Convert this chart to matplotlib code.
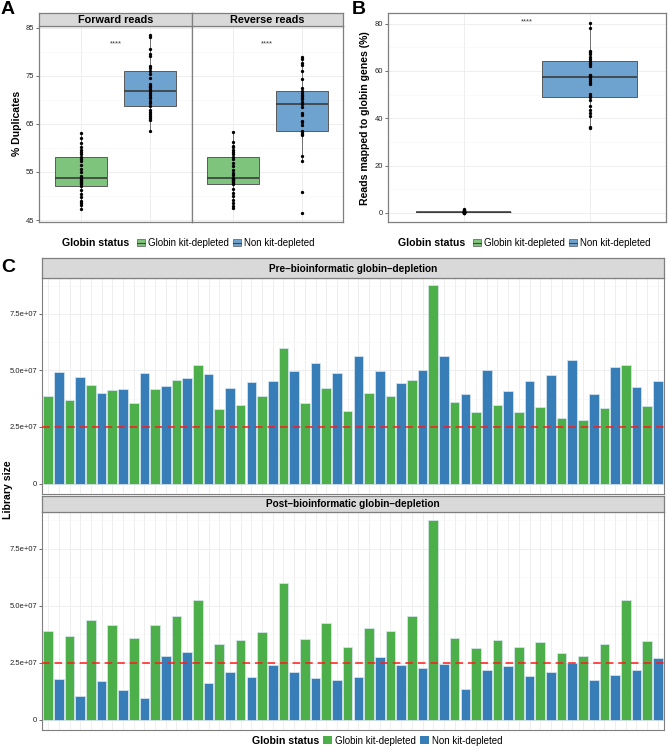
import numpy as np
import matplotlib
matplotlib.use('Agg')
import matplotlib.pyplot as plt
from matplotlib.patches import Patch
from matplotlib.lines import Line2D
from matplotlib.ticker import FixedLocator

plt.rcParams['font.family'] = ['Liberation Sans', 'DejaVu Sans']

# ---------------- data ----------------
groups = ['Globin kit-depleted', 'Non kit-depleted']
facets_a = ['Forward reads', 'Reverse reads']

fwd_kit = [47.3, 48.2, 48.6, 49.0, 49.8, 50.5, 51.3, 52.1, 52.4, 52.7, 52.9, 53.1, 53.3, 53.5,
           53.75, 54.2, 55.0, 55.6, 56.4, 57.2, 57.7, 58.2, 58.7, 59.2, 59.5, 60.2, 61.0, 62.0, 63.1]
fwd_non = [63.6, 65.8, 66.3, 66.7, 67.0, 67.4, 68.0, 68.8, 69.3, 69.8, 70.3, 70.7, 71.1, 71.5,
           71.9, 72.2, 72.6, 73.0, 73.4, 74.5, 75.3, 76.1, 76.6, 77.0, 79.2, 79.6, 80.5, 83.0, 83.6]
rev_kit = [47.6, 48.0, 48.6, 49.1, 50.0, 50.6, 51.4, 52.5, 52.7, 52.9, 53.1, 53.3, 53.5, 53.6,
           53.75, 54.3, 54.7, 55.5, 56.3, 56.9, 57.6, 58.2, 58.8, 59.1, 59.5, 60.2, 60.5, 61.2, 63.4]
rev_non = [46.5, 50.75, 57.3, 58.4, 62.6, 63.0, 63.3, 63.6, 64.8, 65.3, 65.6, 66.8, 67.2, 68.5,
           69.2, 69.6, 70.2, 70.5, 70.8, 71.1, 71.5, 71.9, 72.5, 74.4, 76.0, 77.2, 77.6, 78.5, 79.0]

globin_kit = [0.05, 0.08, 0.1, 0.12, 0.15, 0.18, 0.2, 0.22, 0.24, 0.25, 0.27, 0.28, 0.3, 0.31,
              0.32, 0.34, 0.36, 0.38, 0.4, 0.42, 0.45, 0.5, 0.55, 0.6, 0.7, 0.8, 1.0, 1.3, 1.6]
globin_non = [36.0, 36.3, 40.9, 42.2, 43.5, 45.4, 47.7, 48.8, 49.5, 50.2, 54.5, 55.0, 55.6, 56.4,
              57.3, 57.8, 58.1, 58.4, 62.3, 62.8, 63.3, 64.4, 65.0, 66.1, 67.0, 67.9, 68.6, 78.3, 80.4]

# library sizes (millions of reads), samples alternate kit-depleted / non kit-depleted
sample_status = ['Globin kit-depleted', 'Non kit-depleted'] * 29
pre_lib = [38.9, 49.1, 36.9, 47.2, 43.6, 40.0, 41.4, 41.7, 35.8, 48.7,
           41.7, 43.0, 45.6, 46.5, 52.5, 48.3, 33.1, 42.2, 34.9, 44.9,
           38.5, 45.2, 60.0, 49.6, 35.5, 53.3, 42.4, 48.8, 32.1, 56.3,
           40.1, 49.7, 38.8, 44.5, 45.6, 50.1, 87.6, 56.4, 35.9, 39.7,
           31.7, 50.1, 34.9, 41.1, 31.8, 45.2, 34.0, 48.0, 29.1, 54.5,
           27.9, 39.8, 33.3, 51.7, 52.3, 42.6, 34.4, 45.3]
post_lib = [38.9, 17.7, 36.9, 10.3, 43.6, 17.0, 41.4, 13.1, 35.8, 9.6,
            41.7, 27.8, 45.6, 29.8, 52.5, 16.0, 33.1, 21.2, 34.9, 18.9,
            38.5, 24.0, 60.0, 21.2, 35.5, 18.3, 42.4, 17.4, 32.1, 18.6,
            40.1, 27.6, 38.8, 24.1, 45.6, 22.8, 87.6, 24.4, 35.9, 13.5,
            31.7, 21.7, 34.9, 23.8, 31.8, 19.2, 34.0, 20.8, 29.1, 24.9,
            27.9, 17.6, 33.3, 19.5, 52.3, 21.9, 34.4, 26.9]
threshold = 25e6
facets_c = ['Pre\u2013bioinformatic globin\u2013depletion', 'Post\u2013bioinformatic globin\u2013depletion']
c_ticks = [0, 2.5e7, 5.0e7, 7.5e7]
c_ticklabels = ['0', '2.5e+07', '5.0e+07', '7.5e+07']

# ---------------- style ----------------
box_col = {'Globin kit-depleted': '#7FC47C', 'Non kit-depleted': '#6FA3CF'}
bar_col = {'Globin kit-depleted': '#4DAF4A', 'Non kit-depleted': '#377EB8'}
BORDER = '#7f7f7f'
STRIP = '#d9d9d9'

W, H = 668, 750
fig = plt.figure(figsize=(W / 100, H / 100), dpi=100)


def ax_px(x0, y0, x1, y1):
    return fig.add_axes([x0 / W, 1 - y1 / H, (x1 - x0) / W, (y1 - y0) / H])


def fx(x):
    return x / W


def fy(y):
    return 1 - y / H


def style_panel(ax, border=BORDER, lw=0.9):
    ax.set_facecolor('white')
    for s in ax.spines.values():
        s.set_color(border)
        s.set_linewidth(lw)
    ax.grid(which='major', color='#ebebeb', lw=0.6)
    ax.grid(which='minor', axis='y', color='#f5f5f5', lw=0.4)
    ax.set_axisbelow(True)
    ax.tick_params(axis='both', which='major', length=2.2, width=0.5, color='#333333',
                   labelsize=5.5, labelcolor='#222222', pad=1.2)
    ax.tick_params(which='minor', length=0)


def strip(x0, y0, x1, y1, text, size=7.8):
    s = ax_px(x0, y0, x1, y1)
    s.set_facecolor(STRIP)
    s.set_xticks([])
    s.set_yticks([])
    for sp in s.spines.values():
        sp.set_color(BORDER)
        sp.set_linewidth(0.9)
    s.text(0.5, 0.47, text, ha='center', va='center', fontsize=size, fontweight='bold',
           transform=s.transAxes)
    return s


def draw_box(ax, data_list, ylim, star_y):
    for i, (g, vals) in enumerate(zip(groups, data_list)):
        ax.boxplot([vals], positions=[i + 1], widths=0.75, patch_artist=True,
                   showfliers=False, showcaps=False, whis=1.5,
                   medianprops=dict(color='#333333', lw=1.1),
                   boxprops=dict(facecolor=box_col[g], edgecolor='#5a5a5a', lw=0.7),
                   whiskerprops=dict(color='#5a5a5a', lw=0.6))
        ax.plot([i + 1] * len(vals), vals, 'o', color='black', ms=2.4, mew=0, zorder=5)
    ax.set_xlim(0.4, 2.6)
    ax.set_ylim(*ylim)
    ax.set_xticks([1, 2])
    ax.set_xticklabels([])
    ax.tick_params(axis='x', length=0)
    ax.text(1.5, star_y, '****', ha='center', va='center', fontsize=5.5, color='#333333')


box_handles = [(Patch(facecolor=box_col[g], edgecolor='#5a5a5a', lw=0.5),
                Line2D([], [], color='#444444', lw=0.8)) for g in groups]


def legend_row(title_x, key_x, y, handles, size=7, hl=0.85, hh=0.6, colsp=0.45):
    fig.text(fx(title_x), fy(y), 'Globin status', ha='left', va='center',
             fontsize=7.6, fontweight='bold')
    fig.legend(handles, groups, loc='center left', bbox_to_anchor=(fx(key_x), fy(y)),
               ncol=2, frameon=False, fontsize=size, handlelength=hl, handleheight=hh,
               handletextpad=0.3, columnspacing=colsp, borderpad=0, borderaxespad=0)


# ---------------- panel A ----------------
a_top, a_bot = 25.7, 221.7
ylim_a = (44.65, 85.45)
ax_f = ax_px(39.3, a_top, 191.7, a_bot)
ax_r = ax_px(191.7, a_top, 343, a_bot)
for ax, name, (kit, non) in zip([ax_f, ax_r], facets_a, [(fwd_kit, fwd_non), (rev_kit, rev_non)]):
    style_panel(ax)
    draw_box(ax, [kit, non], ylim_a, 81.7)
    ax.yaxis.set_major_locator(FixedLocator([45, 55, 65, 75, 85]))
    ax.yaxis.set_minor_locator(FixedLocator([50, 60, 70, 80]))
ax_r.tick_params(axis='y', labelleft=False, length=0)
strip(39.3, 13.3, 191.7, a_top, facets_a[0])
strip(191.7, 13.3, 343, a_top, facets_a[1])
fig.text(fx(17), fy(123.7), '% Duplicates', rotation=90, ha='center', va='center',
         fontsize=7.6, fontweight='bold')
legend_row(62, 136.5, 243, box_handles)

# ---------------- panel B ----------------
ax_b = ax_px(387.7, 13.3, 665.7, 222.3)
style_panel(ax_b)
draw_box(ax_b, [globin_kit, globin_non], (-4.0, 84.4), 80.7)
ax_b.yaxis.set_major_locator(FixedLocator([0, 20, 40, 60, 80]))
ax_b.yaxis.set_minor_locator(FixedLocator([10, 30, 50, 70]))
fig.text(fx(364.5), fy(117.8), 'Reads mapped to globin genes (%)', rotation=90,
         ha='center', va='center', fontsize=7.6, fontweight='bold')
legend_row(398, 472.5, 243, box_handles)

# ---------------- panel C ----------------
x = np.arange(1, len(pre_lib) + 1)
colors = [bar_col[s] for s in sample_status]
c_rows = [(258.3, 277.7, 493.5), (495.7, 512.0, 730.0)]
for (s0, s1, p1), name, vals in zip(c_rows, facets_c, [pre_lib, post_lib]):
    ax = ax_px(41.7, s1, 664.3, p1)
    style_panel(ax, lw=0.8)
    ax.bar(x, np.array(vals) * 1e6, width=0.9, color=colors, edgecolor='#dce8f2', lw=0.5, zorder=2)
    ax.axhline(threshold, color='#ff1a1a', lw=1.1, dashes=(5, 3.2), zorder=3)
    ax.set_xlim(0.4, len(x) + 0.6)
    ax.set_ylim(-4.4e6, 91.0e6)
    ax.set_xticks(x)
    ax.set_xticklabels([])
    ax.tick_params(axis='x', length=0)
    ax.set_yticks(c_ticks)
    ax.set_yticklabels(c_ticklabels)
    ax.yaxis.set_minor_locator(FixedLocator([1.25e7, 3.75e7, 6.25e7, 8.75e7]))
    strip(41.7, s0, 664.3, s1, name, size=7.2)
fig.text(fx(8.5), fy(490), 'Library size', rotation=90, ha='center', va='center',
         fontsize=7.6, fontweight='bold')
bar_handles = [Patch(facecolor=bar_col[g], edgecolor='none') for g in groups]
legend_row(251.5, 322.7, 740.5, bar_handles, hl=0.95, hh=0.95, colsp=0.4)

# panel labels
fig.text(fx(1), fy(1), 'A', ha='left', va='top', fontsize=14, fontweight='bold')
fig.text(fx(352), fy(1), 'B', ha='left', va='top', fontsize=14, fontweight='bold')
fig.text(fx(1), fy(259), 'C', ha='left', va='top', fontsize=14, fontweight='bold')

fig.savefig('out.png', dpi=100, facecolor='white')
